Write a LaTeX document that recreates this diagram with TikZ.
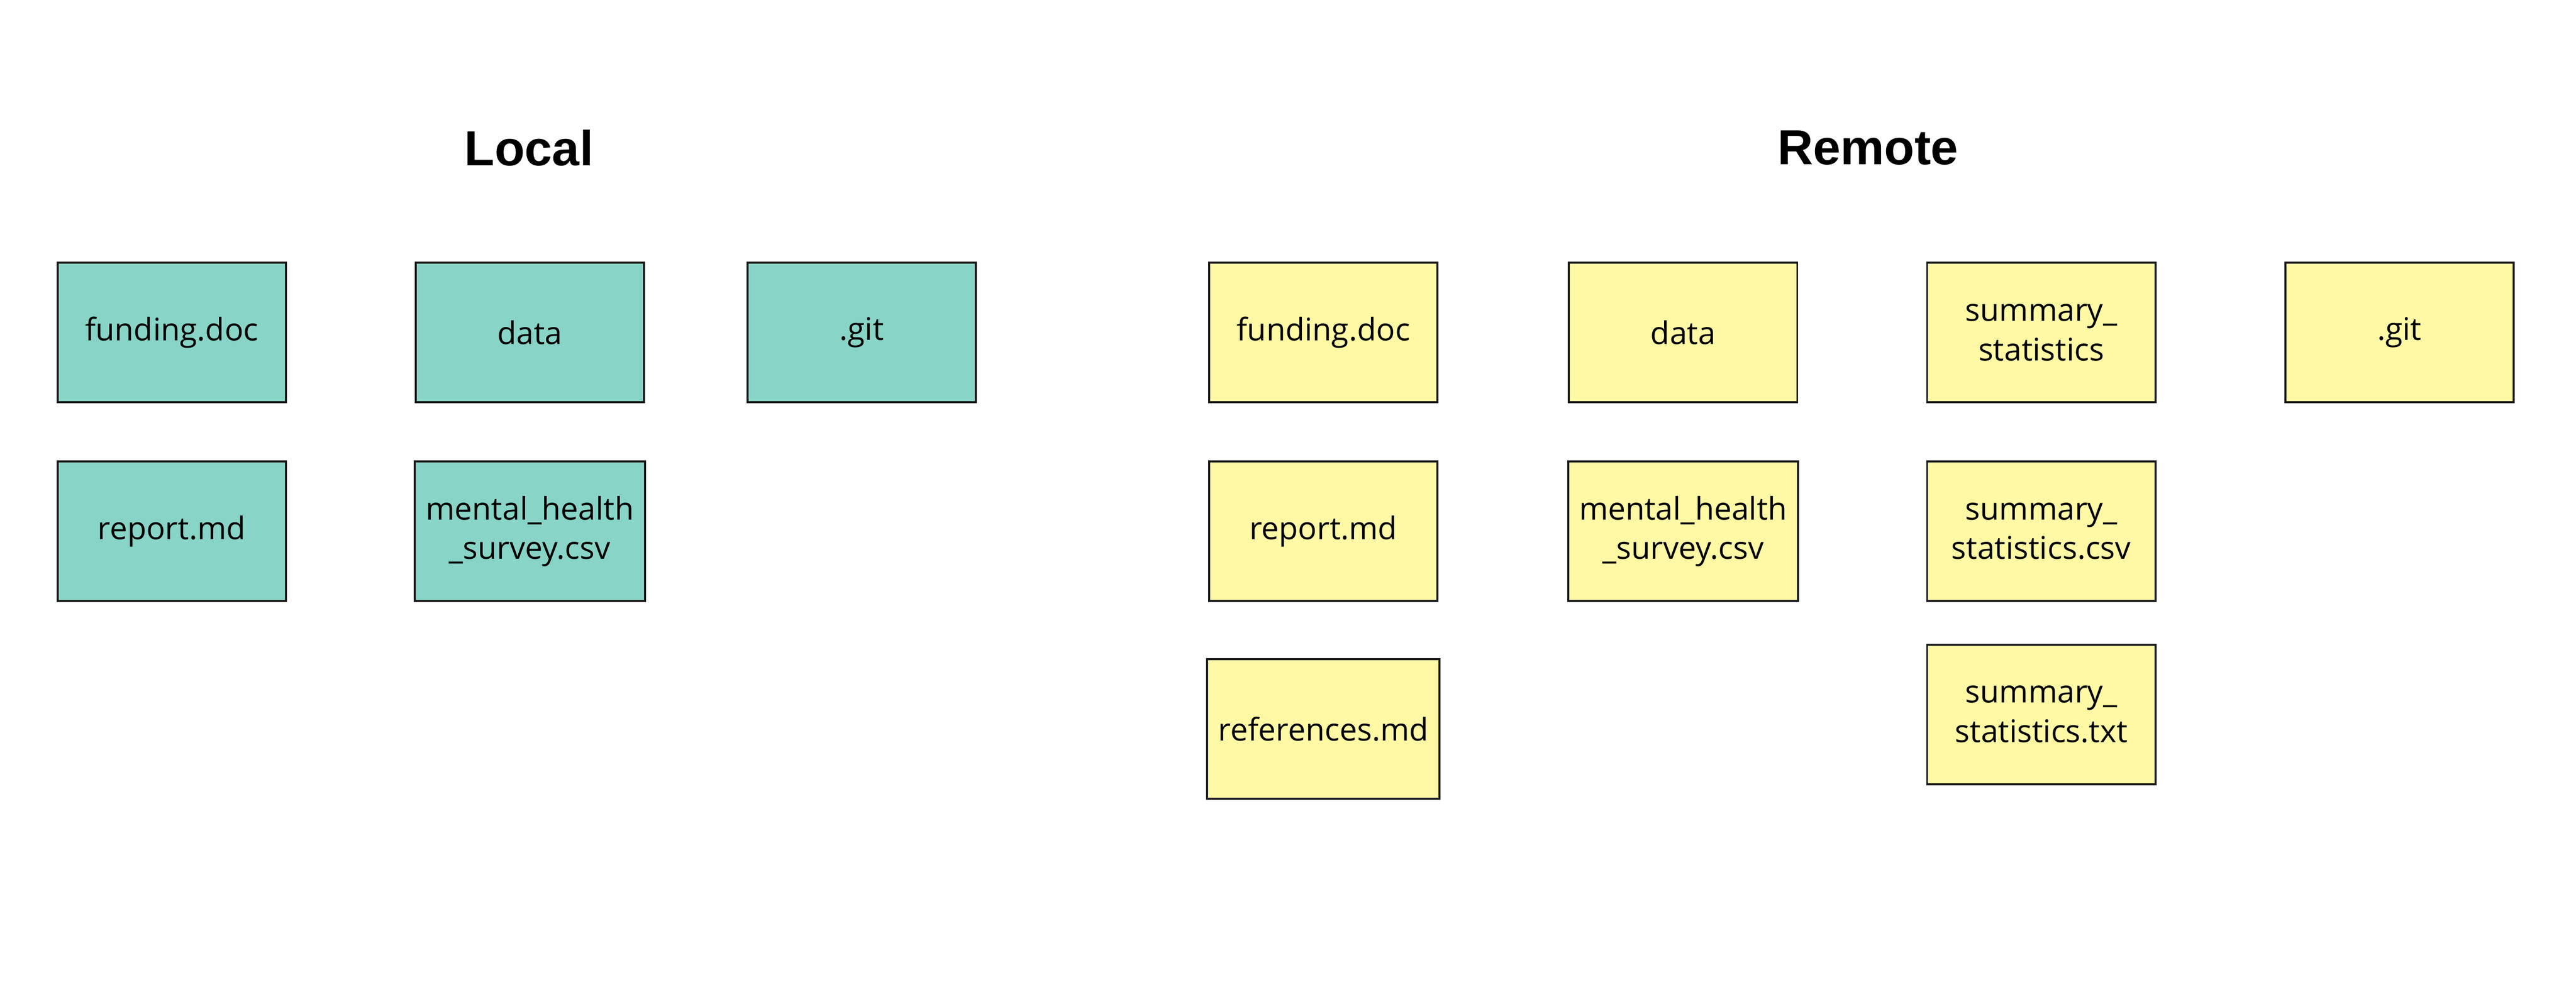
\documentclass[tikz,border=0pt]{standalone}
\usepackage{fontspec}
\setmainfont{Open Sans}
\newfontfamily\titlefont{Liberation Sans}
\usetikzlibrary{positioning}
\definecolor{localfill}{HTML}{88D4C6}
\definecolor{remotefill}{HTML}{FFF9A6}
\tikzset{x=0.5pt, y=-0.5pt,
every file/.style={ % common look of the file boxes
draw=black!90, semithick,
minimum width=69.5pt, minimum height=42.5pt,
align=center, font=\fontsize{9.5}{12}\selectfont},
localfile/.style={every file, fill=localfill},
remotefile/.style={every file, fill=remotefill},
heading/.style={font=\titlefont\bfseries\fontsize{15}{18}\selectfont}}

\begin{document}
\begin{tikzpicture}
    \useasboundingbox (0,0) rectangle (1568,607);

    \node[heading] (local) at (322,90) {Local};
    \node[heading] (remote) at (1137,90) {Remote};

    % local side
    \node[localfile] (lfunding) at (104.5,202.5) {funding.doc};
    \node[localfile] (ldata) at (322.5,202.5) {data};
    \node[localfile] (lgit) at (524.5,202.5) {.git};
    \node[localfile] (lreport) at (104.5,323.5) {report.md};
    \node[localfile] (lsurvey) at (322.5,323.5) {mental\_health\\\_survey.csv};

    % remote side
    \node[remotefile] (rfunding) at (805.5,202.5) {funding.doc};
    \node[remotefile] (rdata) at (1024.5,202.5) {data};
    \node[remotefile] (rsummary) at (1242.5,202.5) {summary\_\\statistics};
    \node[remotefile] (rgit) at (1460.5,202.5) {.git};
    \node[remotefile] (rreport) at (805.5,323.5) {report.md};
    \node[remotefile] (rsurvey) at (1024.5,323.5) {mental\_health\\\_survey.csv};
    \node[remotefile] (rcsv) at (1242.5,323.5) {summary\_\\statistics.csv};
    \node[remotefile] (rrefs) at (805.5,444) {references.md};
    \node[remotefile] (rtxt) at (1242.5,435) {summary\_\\statistics.txt};

\end{tikzpicture}
\end{document}
